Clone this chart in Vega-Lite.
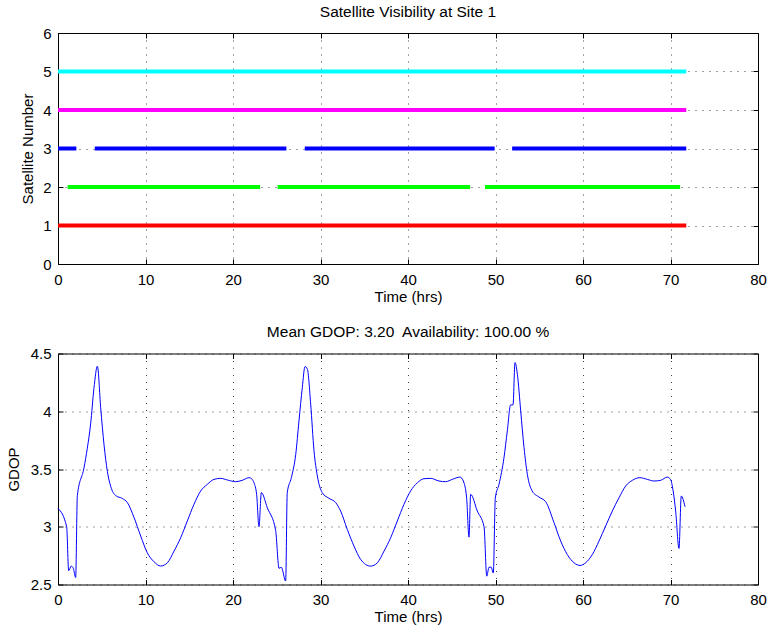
{
  "$schema": "https://vega.github.io/schema/vega-lite/v6.json",
  "padding": {"left": 5, "top": 4, "right": 5, "bottom": 5},
  "background": "white",
  "spacing": 89.5,
  "bounds": "flush",
  "config": {
    "font": "Liberation Sans",
    "view": {"stroke": "#000", "strokeWidth": 1},
    "axis": {
      "domain": false,
      "grid": true,
      "gridColor": "#000",
      "gridOpacity": 0.75,
      "gridDash": [1, 6],
      "gridWidth": 1,
      "tickColor": "#000",
      "tickSize": -5,
      "labelFlush": false,
      "labelFont": "Liberation Sans",
      "labelFontSize": 15,
      "labelColor": "#000",
      "titleFont": "Liberation Sans",
      "titleFontSize": 15,
      "titleFontWeight": "normal",
      "titleColor": "#000"
    },
    "axisX": {"labelPadding": 13, "titlePadding": 2},
    "axisY": {"labelPadding": 12},
    "title": {"font": "Liberation Sans", "fontSize": 15.5, "fontWeight": "normal", "color": "#000", "offset": 6}
  },
  "vconcat": [
    {
      "width": 700,
      "height": 231,
      "title": "Satellite Visibility at Site 1",
      "data": {"values": [
        {"sat": 1, "start": 0, "end": 71.8},
        {"sat": 2, "start": 1.1, "end": 23.1},
        {"sat": 2, "start": 25.1, "end": 47.1},
        {"sat": 2, "start": 48.8, "end": 71.1},
        {"sat": 3, "start": 0, "end": 2.1},
        {"sat": 3, "start": 4.2, "end": 26.1},
        {"sat": 3, "start": 28.2, "end": 49.9},
        {"sat": 3, "start": 51.9, "end": 71.8},
        {"sat": 4, "start": 0, "end": 71.8},
        {"sat": 5, "start": 0, "end": 71.8}
      ]},
      "resolve": {"axis": {"x": "independent", "y": "independent"}},
      "layer": [
        {
          "mark": {"type": "rule", "strokeWidth": 4, "strokeCap": "butt"},
          "encoding": {
            "x": {"field": "start", "type": "quantitative", "scale": {"domain": [0, 80], "nice": false},
                  "axis": {"title": "Time (hrs)", "values": [0, 10, 20, 30, 40, 50, 60, 70, 80]}},
            "x2": {"field": "end"},
            "y": {"field": "sat", "type": "quantitative", "scale": {"domain": [0, 6], "nice": false},
                  "axis": {"title": "Satellite Number", "values": [0, 1, 2, 3, 4, 5, 6], "titlePadding": 7}},
            "color": {"field": "sat", "type": "nominal", "legend": null,
                      "scale": {"domain": [1, 2, 3, 4, 5], "range": ["#ff0000", "#00ff00", "#0000ff", "#ff00ff", "#00ffff"]}}
          }
        },
        {
          "mark": {"type": "rule", "opacity": 0},
          "encoding": {
            "x": {"field": "start", "type": "quantitative",
                  "axis": {"orient": "top", "title": null, "labels": false, "grid": false, "values": [0, 10, 20, 30, 40, 50, 60, 70, 80]}},
            "x2": {"field": "end"},
            "y": {"field": "sat", "type": "quantitative",
                  "axis": {"orient": "right", "title": null, "labels": false, "grid": false, "values": [0, 1, 2, 3, 4, 5, 6]}}
          }
        }
      ]
    },
    {
      "width": 700,
      "height": 231,
      "title": "Mean GDOP: 3.20\u00a0 Availability: 100.00 %",
      "data": {"values": [
        {"t": 0, "g": 3.16}, {"t": 0.99, "g": 3.0}, {"t": 1.22, "g": 2.62}, {"t": 1.52, "g": 2.66},
        {"t": 1.75, "g": 2.64}, {"t": 2.02, "g": 2.56}, {"t": 2.21, "g": 3.27}, {"t": 2.97, "g": 3.51},
        {"t": 3.35, "g": 3.68}, {"t": 3.73, "g": 3.89}, {"t": 4.11, "g": 4.2}, {"t": 4.5, "g": 4.39},
        {"t": 4.88, "g": 4.03}, {"t": 5.26, "g": 3.71}, {"t": 5.64, "g": 3.48}, {"t": 6.02, "g": 3.35},
        {"t": 6.59, "g": 3.27}, {"t": 7.35, "g": 3.245}, {"t": 7.92, "g": 3.21}, {"t": 8.69, "g": 3.08},
        {"t": 9.45, "g": 2.92}, {"t": 10.2, "g": 2.775}, {"t": 10.97, "g": 2.697}, {"t": 11.73, "g": 2.66},
        {"t": 12.5, "g": 2.688}, {"t": 13.26, "g": 2.789}, {"t": 14.02, "g": 2.905}, {"t": 14.78, "g": 3.05},
        {"t": 15.54, "g": 3.194}, {"t": 16.3, "g": 3.309}, {"t": 17.06, "g": 3.367}, {"t": 17.83, "g": 3.41},
        {"t": 18.59, "g": 3.419}, {"t": 19.35, "g": 3.405}, {"t": 20.3, "g": 3.39}, {"t": 21.06, "g": 3.402},
        {"t": 21.83, "g": 3.425}, {"t": 22.2, "g": 3.41}, {"t": 22.4, "g": 3.38}, {"t": 22.7, "g": 3.28},
        {"t": 22.97, "g": 3.0}, {"t": 23.24, "g": 3.295}, {"t": 23.92, "g": 3.165}, {"t": 24.87, "g": 2.97},
        {"t": 25.26, "g": 2.64}, {"t": 25.52, "g": 2.65}, {"t": 26.02, "g": 2.53}, {"t": 26.2, "g": 3.295},
        {"t": 26.67, "g": 3.425}, {"t": 27.17, "g": 3.627}, {"t": 27.54, "g": 3.916}, {"t": 27.92, "g": 4.205},
        {"t": 28.23, "g": 4.387}, {"t": 28.5, "g": 4.364}, {"t": 28.88, "g": 4.06}, {"t": 29.26, "g": 3.656},
        {"t": 29.64, "g": 3.44}, {"t": 30.2, "g": 3.295}, {"t": 30.97, "g": 3.246}, {"t": 31.73, "g": 3.21},
        {"t": 32.3, "g": 3.136}, {"t": 33.06, "g": 2.977}, {"t": 33.83, "g": 2.832}, {"t": 34.59, "g": 2.717},
        {"t": 35.73, "g": 2.659}, {"t": 36.5, "g": 2.688}, {"t": 37.26, "g": 2.789}, {"t": 38.02, "g": 2.905},
        {"t": 38.78, "g": 3.05}, {"t": 39.54, "g": 3.194}, {"t": 40.3, "g": 3.31}, {"t": 41.06, "g": 3.38},
        {"t": 41.83, "g": 3.416}, {"t": 42.59, "g": 3.419}, {"t": 43.54, "g": 3.396}, {"t": 44.3, "g": 3.39},
        {"t": 45.06, "g": 3.41}, {"t": 45.94, "g": 3.43}, {"t": 46.32, "g": 3.396}, {"t": 46.7, "g": 3.25},
        {"t": 46.97, "g": 2.91}, {"t": 47.16, "g": 3.28}, {"t": 47.92, "g": 3.136}, {"t": 48.69, "g": 3.0},
        {"t": 49.0, "g": 2.572}, {"t": 49.26, "g": 2.65}, {"t": 49.5, "g": 2.65}, {"t": 49.75, "g": 2.6},
        {"t": 49.98, "g": 3.25}, {"t": 50.4, "g": 3.367}, {"t": 50.97, "g": 3.598}, {"t": 51.35, "g": 3.83},
        {"t": 51.73, "g": 4.055}, {"t": 52.0, "g": 4.055}, {"t": 52.23, "g": 4.422}, {"t": 52.5, "g": 4.32},
        {"t": 52.88, "g": 4.003}, {"t": 53.26, "g": 3.685}, {"t": 53.64, "g": 3.454}, {"t": 54.2, "g": 3.309},
        {"t": 54.97, "g": 3.257}, {"t": 55.73, "g": 3.217}, {"t": 56.69, "g": 3.035}, {"t": 57.45, "g": 2.876},
        {"t": 58.2, "g": 2.76}, {"t": 58.97, "g": 2.688}, {"t": 59.66, "g": 2.665}, {"t": 60.3, "g": 2.688},
        {"t": 61.07, "g": 2.76}, {"t": 61.83, "g": 2.876}, {"t": 62.59, "g": 3.006}, {"t": 63.35, "g": 3.136},
        {"t": 64.11, "g": 3.25}, {"t": 64.88, "g": 3.353}, {"t": 65.64, "g": 3.402}, {"t": 66.5, "g": 3.425},
        {"t": 67.35, "g": 3.41}, {"t": 68.1, "g": 3.396}, {"t": 68.88, "g": 3.402}, {"t": 69.63, "g": 3.43},
        {"t": 70.0, "g": 3.41}, {"t": 70.3, "g": 3.31}, {"t": 70.59, "g": 3.136}, {"t": 70.97, "g": 2.812},
        {"t": 71.23, "g": 3.266}, {"t": 71.66, "g": 3.173}
      ]},
      "resolve": {"axis": {"x": "independent", "y": "independent"}},
      "layer": [
        {
          "mark": {"type": "line", "color": "#0000ff", "strokeWidth": 1, "interpolate": "monotone"},
          "encoding": {
            "x": {"field": "t", "type": "quantitative", "scale": {"domain": [0, 80], "nice": false},
                  "axis": {"title": "Time (hrs)", "values": [0, 10, 20, 30, 40, 50, 60, 70, 80]}},
            "y": {"field": "g", "type": "quantitative", "scale": {"domain": [2.5, 4.5], "nice": false, "zero": false},
                  "axis": {"title": "GDOP", "values": [2.5, 3, 3.5, 4, 4.5], "labelExpr": "'' + datum.value", "titlePadding": 9}}
          }
        },
        {
          "mark": {"type": "line", "opacity": 0},
          "encoding": {
            "x": {"field": "t", "type": "quantitative",
                  "axis": {"orient": "top", "title": null, "labels": false, "grid": false, "values": [0, 10, 20, 30, 40, 50, 60, 70, 80]}},
            "y": {"field": "g", "type": "quantitative",
                  "axis": {"orient": "right", "title": null, "labels": false, "grid": false, "values": [2.5, 3, 3.5, 4, 4.5]}}
          }
        }
      ]
    }
  ]
}
